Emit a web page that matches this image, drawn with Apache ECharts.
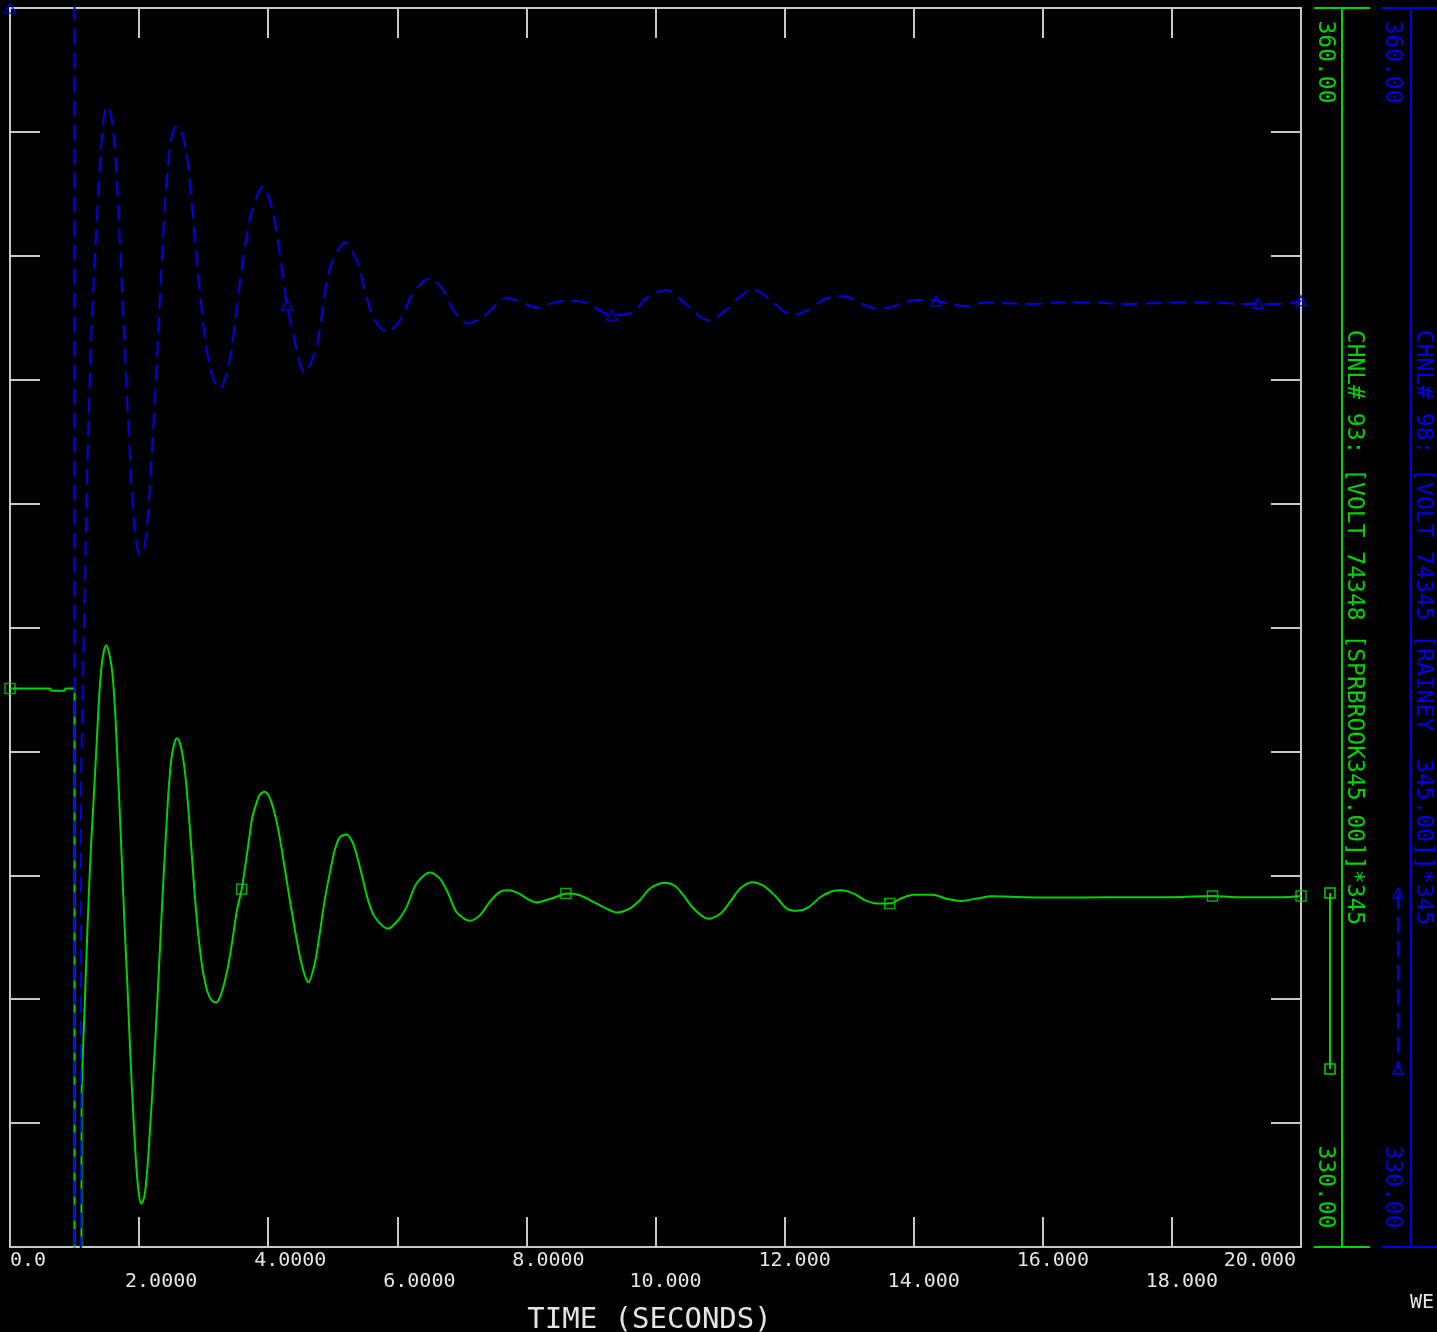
<!DOCTYPE html>
<html lang="en">
<head>
    <meta charset="UTF-8">
    <title>CHNL 93 / 98 voltage</title>
    <script src="https://cdn.jsdelivr.net/npm/echarts@6/dist/echarts.min.js"></script>
    <style>
        html, body { margin: 0; padding: 0; background: #000; }
        #main { width: 1437px; height: 1332px; }
    </style>
</head>
<body>
<div id="main"></div>
<script type="text/javascript">
    // channel 93 (green, solid) - [time s, kV]
    var greenPoints = [
        [0, 343.52], [0.62, 343.52], [0.64, 343.47], [0.84, 343.47], [0.86, 343.52], [1.0, 343.52], [1.0, 300], [1.085, 300],
        [1.109, 333.55], [1.155, 335.73], [1.202, 337.79], [1.248, 339.49], [1.295, 340.82], [1.341, 342.15], [1.388, 343.48],
        [1.434, 344.26], [1.491, 344.57], [1.543, 344.33], [1.589, 343.85], [1.636, 342.76], [1.682, 341.18], [1.729, 339.49],
        [1.775, 337.79], [1.822, 336.22], [1.868, 334.52], [1.915, 333.07], [1.961, 331.86], [2.000, 331.25], [2.034, 331.05],
        [2.085, 331.25], [2.132, 331.98], [2.178, 333.07], [2.225, 334.28], [2.271, 335.61], [2.318, 337.07], [2.364, 338.52],
        [2.411, 339.85], [2.457, 341.06], [2.504, 341.86], [2.550, 342.22], [2.586, 342.31], [2.628, 342.22], [2.674, 341.91],
        [2.721, 341.35], [2.767, 340.53], [2.814, 339.56], [2.860, 338.57], [2.907, 337.72], [2.953, 337.07], [3.000, 336.58],
        [3.062, 336.17], [3.124, 335.97], [3.186, 335.92], [3.274, 336.14], [3.377, 336.78], [3.454, 337.51], [3.516, 338.15],
        [3.589, 338.66], [3.651, 339.29], [3.702, 339.85], [3.755, 340.41], [3.817, 340.74], [3.868, 340.94], [3.946, 341.02],
        [4.008, 340.92], [4.070, 340.67], [4.132, 340.29], [4.194, 339.78], [4.256, 339.17], [4.318, 338.57], [4.380, 337.99],
        [4.442, 337.43], [4.504, 336.94], [4.566, 336.58], [4.617, 336.41], [4.721, 336.86], [4.798, 337.59], [4.876, 338.40],
        [4.953, 339.04], [5.031, 339.61], [5.109, 339.92], [5.212, 339.99], [5.315, 339.77], [5.392, 339.37], [5.470, 338.88],
        [5.547, 338.40], [5.651, 337.99], [5.857, 337.71], [6.012, 337.91], [6.143, 338.23], [6.298, 338.80], [6.504, 339.07],
        [6.659, 338.92], [6.788, 338.56], [6.918, 338.11], [7.124, 337.90], [7.279, 338.03], [7.434, 338.36], [7.589, 338.60],
        [7.718, 338.64], [7.873, 338.57], [8.003, 338.44], [8.158, 338.34], [8.313, 338.40], [8.468, 338.48], [8.612, 338.56],
        [8.803, 338.53], [8.984, 338.40], [9.191, 338.23], [9.398, 338.10], [9.605, 338.20], [9.760, 338.40], [9.915, 338.68],
        [10.147, 338.82], [10.302, 338.74], [10.431, 338.52], [10.586, 338.20], [10.816, 337.95], [11.003, 338.07], [11.158, 338.36],
        [11.313, 338.68], [11.501, 338.83], [11.656, 338.76], [11.843, 338.52], [12.029, 338.20], [12.186, 338.14], [12.372, 338.23],
        [12.560, 338.48], [12.746, 338.62], [12.870, 338.64], [13.057, 338.57], [13.243, 338.40], [13.431, 338.32], [13.629, 338.32],
        [13.805, 338.44], [13.991, 338.53], [14.302, 338.53], [14.488, 338.44], [14.738, 338.38], [14.988, 338.44], [15.205, 338.49],
        [15.713, 338.47], [16.302, 338.46], [17.016, 338.47], [18.023, 338.47], [18.629, 338.50], [18.985, 338.47], [19.698, 338.47],
        [20.0, 338.50]
    ];

    // channel 98 (blue, dashed) - off scale (>360) before the fault
    var bluePoints = [
        [0, 362], [1.0, 362], [1.0, 300], [1.085, 300],
        [1.101, 341.06], [1.124, 343.24], [1.155, 345.66], [1.186, 348.08], [1.217, 350.02], [1.256, 351.96], [1.295, 353.36],
        [1.341, 354.74], [1.388, 356.08], [1.434, 357.05], [1.473, 357.53], [1.501, 357.63], [1.543, 357.53], [1.589, 357.17],
        [1.636, 356.32], [1.682, 354.99], [1.729, 353.41], [1.775, 351.84], [1.822, 350.26], [1.868, 348.81], [1.915, 347.65],
        [1.961, 346.99], [2.019, 346.75], [2.070, 346.87], [2.116, 347.36], [2.163, 348.33], [2.209, 349.54], [2.256, 350.87],
        [2.302, 352.32], [2.349, 353.78], [2.395, 355.11], [2.442, 356.08], [2.488, 356.73], [2.535, 357.05], [2.602, 357.14],
        [2.659, 356.97], [2.721, 356.61], [2.783, 355.83], [2.845, 354.74], [2.907, 353.65], [2.969, 352.69], [3.031, 351.89],
        [3.093, 351.35], [3.171, 350.94], [3.248, 350.77], [3.403, 351.47], [3.507, 352.69], [3.609, 353.90], [3.740, 355.04],
        [3.919, 355.69], [4.074, 355.04], [4.178, 354.07], [4.256, 353.17], [4.291, 352.81], [4.384, 352.13], [4.566, 351.16],
        [4.747, 351.79], [4.825, 352.52], [4.902, 353.34], [5.005, 353.90], [5.186, 354.32], [5.367, 353.90], [5.496, 353.17],
        [5.625, 352.52], [5.842, 352.16], [6.039, 352.44], [6.245, 353.10], [6.504, 353.45], [6.710, 353.17], [6.865, 352.69],
        [7.098, 352.36], [7.330, 352.52], [7.693, 352.97], [7.950, 352.86], [8.158, 352.74], [8.415, 352.86], [8.648, 352.91],
        [8.933, 352.86], [9.321, 352.56], [9.656, 352.64], [9.864, 352.98], [10.174, 353.17], [10.484, 352.81], [10.819, 352.44],
        [11.096, 352.69], [11.251, 352.93], [11.501, 353.19], [11.812, 352.89], [11.998, 352.64], [12.155, 352.58], [12.372, 352.69],
        [12.591, 352.93], [12.808, 353.03], [12.995, 352.99], [13.181, 352.85], [13.400, 352.73], [13.617, 352.75], [13.836, 352.86],
        [14.054, 352.93], [14.346, 352.91], [14.614, 352.81], [14.864, 352.78], [15.081, 352.87], [15.797, 352.83], [16.233, 352.87],
        [16.794, 352.87], [17.229, 352.83], [17.665, 352.85], [18.163, 352.87], [18.660, 352.87], [19.096, 352.83], [19.333, 352.85],
        [19.533, 352.83], [19.907, 352.87], [20.0, 352.91]
    ];

    // symbols drawn on the traces
    var greenMarkers = [[0, 343.52], [3.589, 338.66], [8.612, 338.56], [13.629, 338.32], [18.629, 338.50], [20.0, 338.50]];
    var blueMarkers = [[0, 360], [4.291, 352.81], [9.321, 352.56], [14.346, 352.91], [19.333, 352.85], [20.0, 352.91]];

    var xTickLabels = ['0.0', '2.0000', '4.0000', '6.0000', '8.0000', '10.000', '12.000', '14.000', '16.000', '18.000', '20.000'];
    var chnlNames = ['CHNL# 93: [VOLT 74348 [SPRBROOK345.00]]*345', 'CHNL# 98: [VOLT 74345 [RAINEY  345.00]]*345'];
    var yMin = 330, yMax = 360;

    var GREEN = '#00d400', BLUE = '#0000f0', FRAME = '#c8c8c8', TEXT = '#e4e4e4';
    var MONO = '"DejaVu Sans Mono", "Liberation Mono", monospace';

    // time labels sit with their decimal point on the tick, rows alternate
    var xRich = {};
    xTickLabels.forEach(function (s, i) {
        var cw = 12.04, dx;
        if (i === 0) dx = s.length * cw / 2;
        else if (i === xTickLabels.length - 1) dx = -s.length * cw / 2 - 5;
        else dx = (s.length / 2 - s.indexOf('.') - 0.5) * cw + 4;
        xRich['r' + i] = {
            color: TEXT, fontFamily: MONO, fontSize: 20, lineHeight: 20,
            padding: [i % 2 ? 42 : 0, dx < 0 ? -2 * dx : 0, 0, dx > 0 ? 2 * dx : 0]
        };
    });

    function frameX(pos, showLabel) {
        return {
            type: 'value', position: pos, min: 0, max: 20, interval: 2,
            axisLine: { show: true, onZero: false, lineStyle: { color: FRAME, width: 2 } },
            axisTick: { show: true, inside: true, length: 30, lineStyle: { color: FRAME, width: 2 } },
            splitLine: { show: false },
            axisLabel: showLabel ? {
                show: true, margin: 4,
                formatter: function (v) { var i = Math.round(v / 2); return '{r' + i + '|' + xTickLabels[i] + '}'; },
                rich: xRich
            } : { show: false }
        };
    }
    function frameY(pos) {
        return {
            type: 'value', position: pos, min: yMin, max: yMax, interval: 3,
            axisLine: { show: true, onZero: false, lineStyle: { color: FRAME, width: 2 } },
            axisTick: { show: true, inside: true, length: 30, lineStyle: { color: FRAME, width: 2 } },
            splitLine: { show: false },
            axisLabel: { show: false }
        };
    }
    function chnlAxis(offset, color, name, capWidth, margin) {
        return {
            type: 'value', position: 'right', offset: offset, min: yMin, max: yMax, interval: yMax - yMin,
            axisLine: { show: true, onZero: false, symbol: ['rect', 'rect'], symbolSize: [capWidth, 2], lineStyle: { color: color, width: 2 } },
            axisTick: { show: false },
            splitLine: { show: false },
            axisLabel: {
                show: true, inside: true, rotate: -90, margin: margin,
                formatter: function (v) { return (v === yMax ? '{t|' : '{b|') + v.toFixed(2) + '}'; },
                rich: {
                    t: { color: color, fontFamily: MONO, fontSize: 23, padding: [0, 0, 0, 108] },
                    b: { color: color, fontFamily: MONO, fontSize: 23, padding: [0, 120, 0, 0] }
                }
            },
            name: name, nameLocation: 'middle', nameRotate: -90, nameGap: 0, nameMoveOverlap: false,
            nameTextStyle: { color: color, fontFamily: MONO, fontSize: 23 }
        };
    }

    var xBottom = frameX('bottom', true);
    xBottom.name = 'TIME (SECONDS)';
    xBottom.nameLocation = 'middle';
    xBottom.nameGap = 59;
    xBottom.nameMoveOverlap = false;
    xBottom.nameTextStyle = { color: TEXT, fontFamily: MONO, fontSize: 29, padding: [0, 12, 0, 0] };

    var myChart = echarts.init(document.getElementById('main'));
    var option = {
        animation: false,
        backgroundColor: '#000',
        grid: { left: 10, top: 8, right: 136, bottom: 85, containLabel: false, outerBoundsMode: 'none' },
        xAxis: [xBottom, frameX('top', false)],
        yAxis: [
            frameY('left'),
            frameY('right'),
            chnlAxis(41, GREEN, chnlNames[0], 56, 6),
            chnlAxis(110, BLUE, chnlNames[1], 58, 8)
        ],
        series: [
            {
                name: chnlNames[0], type: 'line', xAxisIndex: 0, yAxisIndex: 0,
                data: greenPoints, showSymbol: false, smooth: 0.3, z: 2,
                lineStyle: { color: GREEN, width: 2 }
            },
            {
                name: chnlNames[1], type: 'line', xAxisIndex: 0, yAxisIndex: 0,
                data: bluePoints, showSymbol: false, smooth: 0.3, z: 3,
                lineStyle: { color: BLUE, width: 2, type: [16, 8] }
            },
            {
                type: 'scatter', xAxisIndex: 0, yAxisIndex: 0, data: greenMarkers, clip: false, z: 4,
                symbol: 'rect', symbolSize: 10,
                itemStyle: { color: 'rgba(0,0,0,0)', borderColor: GREEN, borderWidth: 1.5 }
            },
            {
                type: 'scatter', xAxisIndex: 0, yAxisIndex: 0, data: blueMarkers, clip: false, z: 4,
                symbol: 'triangle', symbolSize: [11, 10],
                itemStyle: { color: 'rgba(0,0,0,0)', borderColor: BLUE, borderWidth: 1.5 }
            }
        ],
        graphic: [
            // legend samples beside the channel scales
            { type: 'line', shape: { x1: 1330, y1: 893, x2: 1330, y2: 1069 }, style: { stroke: GREEN, lineWidth: 2 } },
            { type: 'rect', shape: { x: 1325, y: 888, width: 10, height: 10 }, style: { fill: 'none', stroke: GREEN, lineWidth: 1.5 } },
            { type: 'rect', shape: { x: 1325, y: 1064, width: 10, height: 10 }, style: { fill: 'none', stroke: GREEN, lineWidth: 1.5 } },
            { type: 'line', shape: { x1: 1398, y1: 893, x2: 1398, y2: 1069 }, style: { stroke: BLUE, lineWidth: 2, lineDash: [16, 8] } },
            { type: 'polygon', shape: { points: [[1398, 888], [1393, 898], [1403, 898]] }, style: { fill: 'none', stroke: BLUE, lineWidth: 1.5 } },
            { type: 'polygon', shape: { points: [[1398, 1064], [1393, 1074], [1403, 1074]] }, style: { fill: 'none', stroke: BLUE, lineWidth: 1.5 } },
            { type: 'text', left: 1410, top: 1293, style: { text: 'WE', fill: TEXT, font: '20px "DejaVu Sans Mono"' } }
        ]
    };
    myChart.setOption(option);
</script>
</body>
</html>
